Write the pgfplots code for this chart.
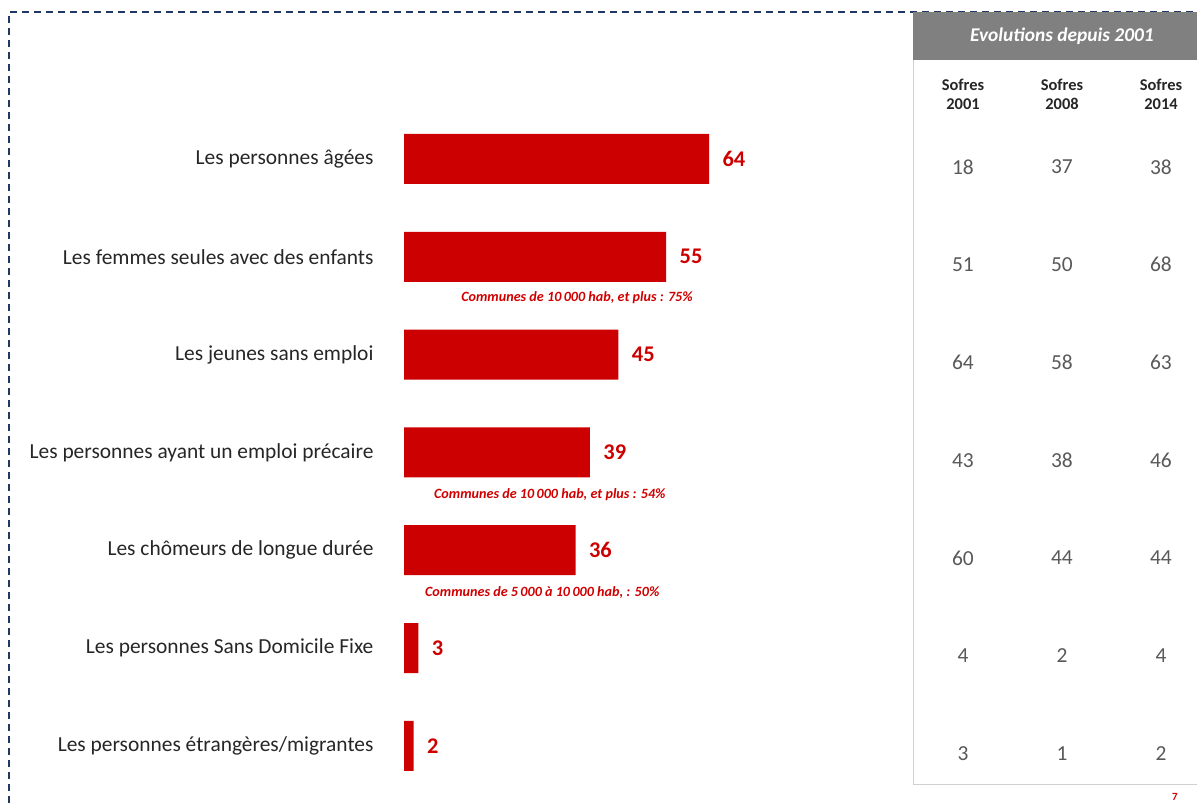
\documentclass[border=0pt]{standalone}
\usepackage{pgfplots}
\pgfplotsset{compat=1.18}
\usepackage{pgfplotstable}
\usepackage{fontspec}
\setmainfont{Carlito}
\definecolor{barred}{HTML}{CC0000}
\definecolor{annred}{HTML}{D00000}
\definecolor{navy}{HTML}{1F3864}
\definecolor{hdrgrey}{HTML}{808080}
\definecolor{valgrey}{HTML}{595959}
\definecolor{panelline}{HTML}{D0D0D0}

\pgfplotstableread{
y v
0 64
1 55
2 45
3 39
4 36
5 3
6 2
}\mainbars

\pgfplotstableread{
y s2001 s2008 s2014
0 18 37 38
1 51 50 68
2 64 58 63
3 43 38 46
4 60 44 44
5 4 2 4
6 3 1 2
}\evol

\begin{document}
\begin{tikzpicture}[x=1bp,y=1bp]
\useasboundingbox (0,0) rectangle (1197,803);
% dashed frame
\draw[navy, line width=1.8bp, dash pattern=on 7bp off 5bp] (9,0) -- (9,791) -- (1197,791);
% table panel
\fill[white] (913,18) rectangle (1197,791);
\draw[panelline, line width=1bp] (913,743) -- (913,18) -- (1197,18);
\fill[hdrgrey] (913,743) rectangle (1197,791);
\node[white, font=\fontsize{19.5}{22}\selectfont\bfseries\itshape] at (1062,767) {Evolutions depuis 2001};
\foreach \xx/\yy in {963/2001, 1062/2008, 1161/2014}{
  \node[align=center, text=black!85, font=\fontsize{16.5}{19}\selectfont\bfseries] at (\xx,709) {Sofres\\\yy};
}
\node[annred, font=\fontsize{11}{12}\selectfont\bfseries] at (1175,6) {7};

\begin{axis}[
  at={(404bp,8.3bp)}, anchor=south west,
  scale only axis, width=793bp, height=684.6bp,
  xmin=0, xmax=166.4, ymin=-0.5, ymax=6.5, y dir=reverse,
  axis line style={draw=none}, tick style={draw=none},
  xtick=\empty,
  ytick={0,...,6},
  yticklabels={Les personnes âgées, Les femmes seules avec des enfants, Les jeunes sans emploi, Les personnes ayant un emploi précaire, Les chômeurs de longue durée, Les personnes Sans Domicile Fixe, Les personnes étrangères/migrantes},
  yticklabel style={font=\fontsize{21.5}{24}\selectfont, text=black!85, xshift=-27bp},
  clip=false,
  /pgf/number format/assume math mode=true,
]
\addplot[xbar, bar width=50bp, fill=barred, draw=none,
  nodes near coords, nodes near coords style={font=\fontsize{22.5}{26}\selectfont\bfseries, text=barred, xshift=10bp}]
  table[x=v, y=y] \mainbars;

\addplot[draw=none, mark=none, nodes near coords, point meta=explicit symbolic,
  nodes near coords style={anchor=center, font=\fontsize{21.5}{24}\selectfont, text=valgrey}]
  table[x expr=(963-404)/4.766, y expr=\thisrow{y}+0.08, meta=s2001] \evol;
\addplot[draw=none, mark=none, nodes near coords, point meta=explicit symbolic,
  nodes near coords style={anchor=center, font=\fontsize{21.5}{24}\selectfont, text=valgrey}]
  table[x expr=(1062-404)/4.766, y expr=\thisrow{y}+0.08, meta=s2008] \evol;
\addplot[draw=none, mark=none, nodes near coords, point meta=explicit symbolic,
  nodes near coords style={anchor=center, font=\fontsize{21.5}{24}\selectfont, text=valgrey}]
  table[x expr=(1161-404)/4.766, y expr=\thisrow{y}+0.08, meta=s2014] \evol;

\node[annred, font=\fontsize{14.2}{16}\selectfont\bfseries\itshape] at (axis cs:36.3,1.42) {Communes de 10\,000 hab, et plus : 75\%};
\node[annred, font=\fontsize{14.2}{16}\selectfont\bfseries\itshape] at (axis cs:30.6,3.43) {Communes de 10\,000 hab, et plus : 54\%};
\node[annred, font=\fontsize{14.2}{16}\selectfont\bfseries\itshape] at (axis cs:29.0,4.43) {Communes de 5\,000 à 10\,000 hab, : 50\%};
\end{axis}
\end{tikzpicture}
\end{document}
